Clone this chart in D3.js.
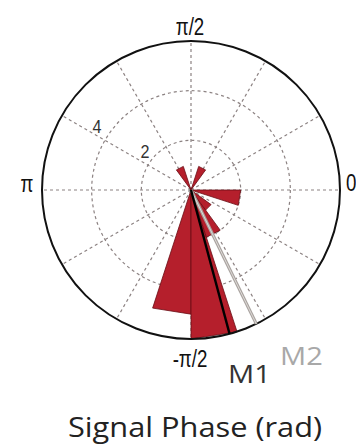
<!DOCTYPE html>
<html>
<head>
<meta charset="utf-8">
<script src="https://cdn.jsdelivr.net/npm/d3@7"></script>
<style>
  body { margin: 0; background: #fff; }
  svg { display: block; }
</style>
</head>
<body>
<svg id="chart" width="356" height="448"></svg>
<script>
// rose histogram, 20 bins of 18 deg (start angle of each bin, counter-clockwise from 0)
const binStartDeg = [0, 18, 36, 54, 72, 90, 108, 126, 144, 162, 180, 198, 216, 234, 252, 270, 288, 306, 324, 342];
const binCounts   = [0, 0, 0, 1, 0, 0, 1, 0, 0, 0, 0, 0, 0, 0, 5, 6, 2, 1, 0, 2];
const binWidthDeg = 18;

// mean phase lines
const meanNames = ['M1', 'M2'];
const meanDeg = [-75, -64];
const meanLen = [6, 6];

// ticks
const ringTicks = [2, 4, 6];
const ringLabels = ['2', '4'];
const spokeDeg = [0, 30, 60, 90, 120, 150, 180, 210, 240, 270, 300, 330];
const angleLabels = ['π/2', 'π', '0', '-π/2'];

const svg = d3.select('#chart');
const cx = 191, cy = 190;
const narrow = "'Liberation Sans', Arial, sans-serif";
const wide = "'Open Sans', sans-serif";

const r = d3.scaleLinear().domain([0, 6]).range([0, 149]);
const rad = d => d * Math.PI / 180;
const px = (deg, v) => cx + r(v) * Math.cos(rad(deg));
const py = (deg, v) => cy - r(v) * Math.sin(rad(deg));

// grid: dashed rings and spokes
const grid = svg.append('g')
  .attr('fill', 'none')
  .attr('stroke', '#8c8282')
  .attr('stroke-width', 1.2)
  .attr('stroke-dasharray', '3,3');

grid.selectAll('circle')
  .data(ringTicks.slice(0, -1))
  .join('circle')
    .attr('cx', cx)
    .attr('cy', cy)
    .attr('r', d => r(d));

grid.selectAll('line')
  .data(spokeDeg)
  .join('line')
    .attr('x1', cx)
    .attr('y1', cy)
    .attr('x2', d => px(d, 6))
    .attr('y2', d => py(d, 6));

// wedges (triangles like matlab rose)
const bins = binStartDeg.map((a, i) => ({ a0: a, a1: a + binWidthDeg, n: binCounts[i] }))
  .filter(d => d.n > 0);

svg.append('g')
  .selectAll('path')
  .data(bins)
  .join('path')
    .attr('d', d => d3.line()([[cx, cy], [px(d.a0, d.n), py(d.a0, d.n)], [px(d.a1, d.n), py(d.a1, d.n)]]) + 'Z')
    .attr('fill', '#b51f2c')
    .attr('stroke', '#6a0d14')
    .attr('stroke-width', 0.8)
    .attr('stroke-linejoin', 'round');

// outer circle
svg.append('circle')
  .attr('cx', cx)
  .attr('cy', cy)
  .attr('r', r(6))
  .attr('fill', 'none')
  .attr('stroke', '#111')
  .attr('stroke-width', 2);

// mean lines
svg.append('line')
  .attr('x1', cx).attr('y1', cy)
  .attr('x2', px(meanDeg[1], meanLen[1])).attr('y2', py(meanDeg[1], meanLen[1]))
  .attr('stroke', '#a9a39f')
  .attr('stroke-width', 3.2);
svg.append('line')
  .attr('x1', cx).attr('y1', cy)
  .attr('x2', px(meanDeg[1], meanLen[1])).attr('y2', py(meanDeg[1], meanLen[1]))
  .attr('stroke', '#dedad8')
  .attr('stroke-width', 1);
svg.append('line')
  .attr('x1', cx).attr('y1', cy)
  .attr('x2', px(meanDeg[0], meanLen[0])).attr('y2', py(meanDeg[0], meanLen[0]))
  .attr('stroke', '#000')
  .attr('stroke-width', 2.4);

// ring labels (narrow look via horizontal squeeze)
const ringPos = [[145, 158], [97, 133]];
svg.selectAll('.rlab')
  .data(ringLabels)
  .join('text')
    .attr('class', 'rlab')
    .attr('transform', (d, i) => `translate(${ringPos[i][0]},${ringPos[i][1]}) scale(0.85,1)`)
    .attr('text-anchor', 'middle')
    .attr('font-family', narrow)
    .attr('font-size', 19)
    .attr('fill', '#333')
    .text(d => d);

// angle labels
const angPos = [[190, 35, 'middle'], [27, 192, 'middle'], [346, 191, 'start'], [190, 367, 'middle']];
svg.selectAll('.alab')
  .data(angleLabels)
  .join('text')
    .attr('class', 'alab')
    .attr('transform', (d, i) => `translate(${angPos[i][0]},${angPos[i][1]}) scale(0.78,1)`)
    .attr('text-anchor', (d, i) => angPos[i][2])
    .attr('font-family', narrow)
    .attr('font-size', 24)
    .attr('fill', '#111')
    .text(d => d);

// M1 / M2 names
svg.append('text')
  .attr('transform', 'translate(228,383) scale(1.12,1)')
  .attr('font-family', wide)
  .attr('font-size', 26)
  .attr('fill', '#333')
  .text(meanNames[0]);
svg.append('text')
  .attr('transform', 'translate(280,365) scale(1.12,1)')
  .attr('font-family', wide)
  .attr('font-size', 26)
  .attr('fill', '#a8a8a8')
  .text(meanNames[1]);

// axis title
svg.append('text')
  .attr('transform', 'translate(195,437) scale(1.14,1)')
  .attr('text-anchor', 'middle')
  .attr('font-family', wide)
  .attr('font-size', 27)
  .attr('fill', '#222')
  .text('Signal Phase (rad)');
</script>
</body>
</html>
